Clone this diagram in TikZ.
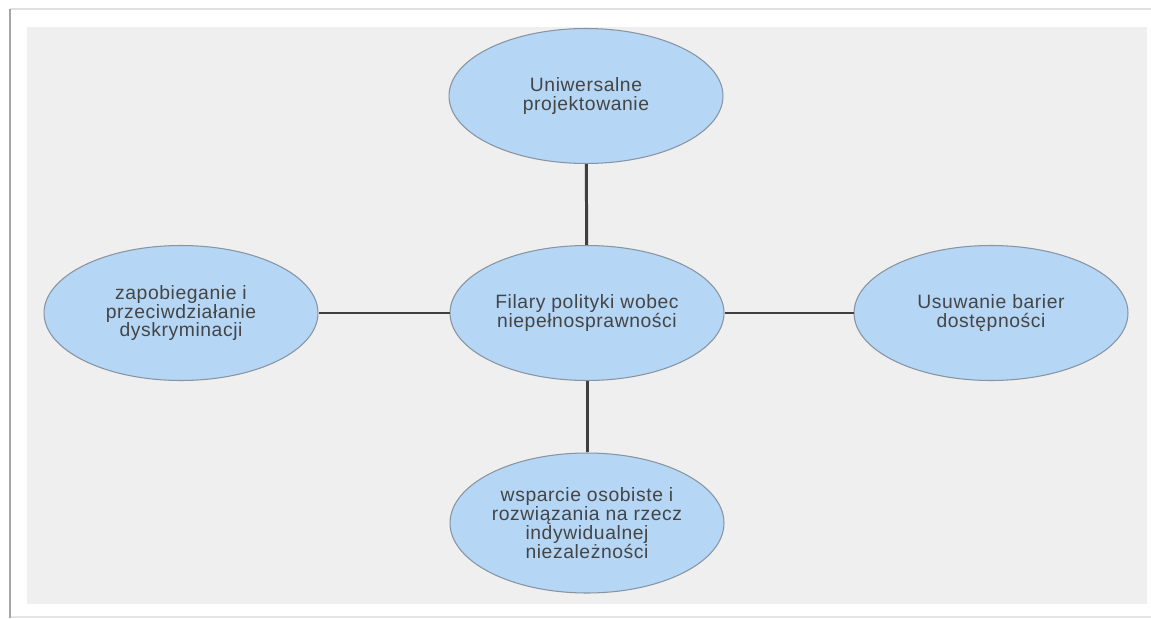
\documentclass[tikz,border=0pt]{standalone}
\usepackage{fontspec}
\setmainfont{Liberation Sans}[LetterSpace=3]
\usetikzlibrary{shapes.geometric}
\definecolor{pillarfill}{HTML}{B5D6F5}
\definecolor{pillarline}{HTML}{8794A1}
\definecolor{linkline}{HTML}{3F3F3F}
\definecolor{textgray}{HTML}{454545}
\definecolor{panelgray}{HTML}{EFEFEF}
\begin{document}
\begin{tikzpicture}[
    x=0.02cm, y=-0.02cm,
    every node/.style={align=center},
    pillar/.style={ellipse, draw=pillarline, line width=0.6pt, fill=pillarfill,
        minimum width=5.48cm, minimum height=2.7cm, inner sep=0pt,
        text=textgray, font=\fontsize{11}{10.8}\selectfont},
    link/.style={draw=linkline, line width=1.7pt},
    ]
\useasboundingbox (0,0) rectangle (1151,618);
% frame and panel
\draw[black!12, line width=0.6pt] (10,9) -- (1151,9);
\draw[black!10, line width=0.6pt] (10,617) -- (1151,617);
\draw[black!35, line width=1.2pt] (10,9) -- (10,618);
\fill[panelgray] (27,27) rectangle (1147,604);
% pillars
\node[pillar] (core) at (587,313) {Filary polityki wobec\\niepełnosprawności};
\node[pillar] (design) at (586,96) {Uniwersalne\\projektowanie};
\node[pillar] (antidiscr) at (181,313) {zapobieganie i\\przeciwdziałanie\\dyskryminacji};
\node[pillar] (barriers) at (991,313) {Usuwanie barier\\dostępności};
\node[pillar, minimum height=2.8cm] (support) at (587,523) {wsparcie osobiste i\\rozwiązania na rzecz\\indywidualnej\\niezależności};
\draw[link] (core) -- (design);
\draw[link] (core) -- (antidiscr);
\draw[link] (core) -- (barriers);
\draw[link] (core) -- (support);
\end{tikzpicture}
\end{document}
